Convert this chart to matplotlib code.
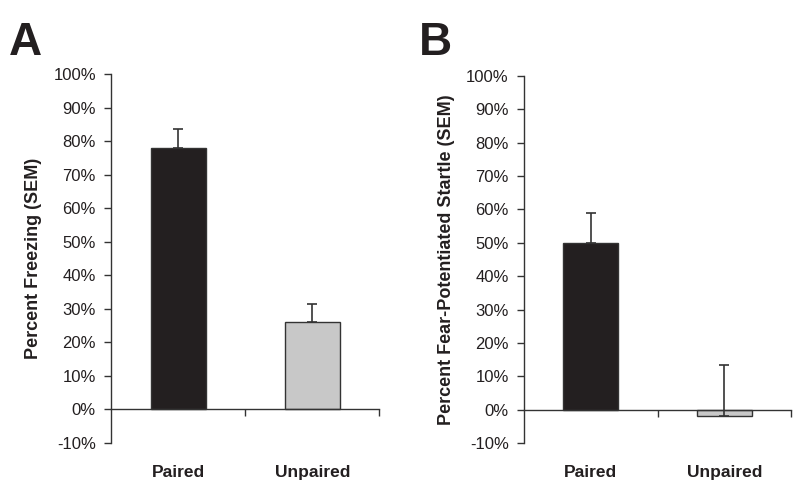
import matplotlib
matplotlib.use("Agg")
import matplotlib.pyplot as plt
import numpy as np

categories = ["Paired", "Unpaired"]
freezing = [78, 26]
freezing_err = [5.5, 5.5]
startle = [50, -2]
startle_err = [9, 15.5]
ytick_vals = [-10, 0, 10, 20, 30, 40, 50, 60, 70, 80, 90, 100]
ytick_labels = ["-10%", "0%", "10%", "20%", "30%", "40%", "50%", "60%", "70%", "80%", "90%", "100%"]
ylabels = ["Percent Freezing (SEM)", "Percent Fear-Potentiated Startle (SEM)"]
panel_letters = ["A", "B"]

plt.rcParams['font.family'] = ['Liberation Sans', 'DejaVu Sans']
TXT = '#231f20'
LINE = '#333333'

fig = plt.figure(figsize=(8, 4.92), dpi=100)
axA = fig.add_axes([0.139, 0.0996, 0.335, 0.75])
axB = fig.add_axes([0.655, 0.0996, 0.334, 0.746])

bar_colors = ['#231f20', '#c8c8c8']

for ax, vals, errs, ylab in [(axA, freezing, freezing_err, ylabels[0]),
                             (axB, startle, startle_err, ylabels[1])]:
    x = np.arange(len(categories))
    ax.bar(x, vals, width=0.41, color=bar_colors, edgecolor=LINE, linewidth=1.0, zorder=2)
    ax.errorbar(x, vals, yerr=[np.zeros(len(errs)), errs], fmt='none', ecolor=LINE,
                elinewidth=1.2, capsize=3.5, capthick=1.2, zorder=3)
    ax.set_xlim(-0.5, len(categories) - 0.5)
    ax.set_ylim(-10, 100)
    ax.set_yticks(ytick_vals)
    ax.set_yticklabels(ytick_labels, fontsize=12, color=TXT)
    ax.tick_params(axis='y', direction='out', length=5, width=1.0, color=LINE, pad=6)
    ax.set_xticks(np.arange(len(categories)) + 0.5)
    ax.set_xticklabels([])
    ax.tick_params(axis='x', direction='out', length=5, width=1.0, color=LINE)
    for s in ['top', 'right']:
        ax.spines[s].set_visible(False)
    ax.spines['bottom'].set_position(('data', 0))
    ax.spines['bottom'].set_color(LINE)
    ax.spines['left'].set_color(LINE)
    ax.spines['left'].set_linewidth(1.0)
    ax.spines['bottom'].set_linewidth(1.0)
    for i, c in enumerate(categories):
        ax.text(i, -0.08, c, transform=ax.get_xaxis_transform(), ha='center', va='center',
                fontsize=12.5, fontweight='bold', color=TXT)
    ax.set_ylabel(ylab, fontsize=13, fontweight='bold', color=TXT, labelpad=8)

fig.text(0.011, 0.912, panel_letters[0], fontsize=33, fontweight='bold', color=TXT, va='center', ha='left')
fig.text(0.523, 0.912, panel_letters[1], fontsize=33, fontweight='bold', color=TXT, va='center', ha='left')

fig.savefig("out.png", dpi=100)
